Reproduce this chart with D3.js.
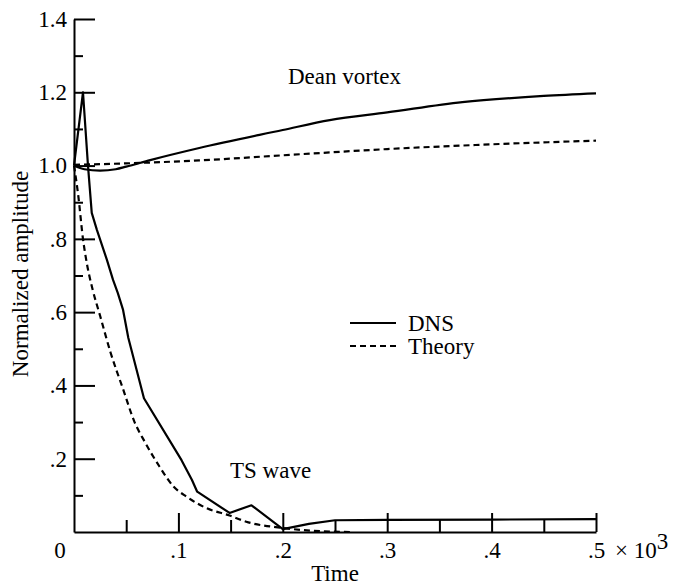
<!DOCTYPE html>
<html>
<head>
<meta charset="utf-8">
<script src="https://cdn.jsdelivr.net/npm/d3@7"></script>
<style>
  body { margin: 0; background: #fff; }
  svg text { font-family: "Liberation Serif", Tinos, "Times New Roman", Times, "DejaVu Serif", serif !important; fill: #000; }
</style>
</head>
<body>
<div id="c"></div>
<script>
"use strict";

// values (time in units of 10^3)
const tsDnsT   = [0, 0.0086, 0.0134, 0.017, 0.022, 0.0316, 0.0374, 0.042, 0.047, 0.052, 0.067, 0.103, 0.113, 0.118, 0.149, 0.17, 0.2, 0.225, 0.25, 0.3, 0.4, 0.5]
const tsDnsV   = [1.0, 1.2, 1.0, 0.871, 0.824, 0.742, 0.688, 0.652, 0.606, 0.53, 0.365, 0.196, 0.142, 0.11, 0.052, 0.073, 0.008, 0.022, 0.032, 0.033, 0.034, 0.035]

const tsThT    = [0, 0.004, 0.0086, 0.0125, 0.018, 0.025, 0.035, 0.047, 0.058, 0.068, 0.082, 0.095, 0.108, 0.127, 0.149, 0.165, 0.2, 0.23, 0.265]
const tsThV    = [1.0, 0.92, 0.80, 0.73, 0.66, 0.59, 0.49, 0.39, 0.30, 0.245, 0.178, 0.125, 0.096, 0.065, 0.045, 0.028, 0.011, 0.003, 0.0]

const deanDnsT = [0, 0.01, 0.025, 0.04, 0.05, 0.073, 0.12, 0.2, 0.245, 0.3, 0.372, 0.45, 0.5]
const deanDnsV = [1.0, 0.99, 0.986, 0.99, 0.997, 1.015, 1.048, 1.097, 1.124, 1.145, 1.173, 1.19, 1.197]

const deanThT  = [0, 0.05, 0.12, 0.2, 0.3, 0.4, 0.5]
const deanThV  = [1.002, 1.006, 1.014, 1.028, 1.045, 1.058, 1.068]

const xMajor = [0.1, 0.2, 0.3, 0.4, 0.5]
const xMinor = [0.05, 0.15, 0.25, 0.35, 0.45]
const yMajor = [0.2, 0.4, 0.6, 0.8, 1.0, 1.2, 1.4]
const yMinor = [0.1, 0.3, 0.5, 0.7, 0.9, 1.1, 1.3]

const legendLabels = ["DNS", "Theory"]
const legendDash = [null, "6,4"]

const W = 674, H = 588
const fontSize = 23
const serif = '"Liberation Serif", Tinos, "Times New Roman", Times, "DejaVu Serif", serif'

let svg = d3.select('#c').append('svg')
    .attr('width', W).attr('height', H)
    .attr('font-family', serif)

let xScale = d3.scaleLinear().domain([0, 0.5]).range([74, 596])
let yScale = d3.scaleLinear().domain([0, 1.4]).range([532, 19])

function pts(ts, vs) {
    return ts.map((t, i) => ({ t: t, v: vs[i] }))
}

function fmt(d) {
    let s = d3.format(".1f")(d)
    return d < 1 ? s.replace(/^0/, "") : s
}

function addText(x, y, str) {
    return svg.append('text')
        .attr('x', x).attr('y', y)
        .attr('font-family', serif)
        .style('font-size', fontSize + 'px')
        .text(str)
}

// x axis, ticks point inwards
svg.append('g')
    .attr('transform', 'translate(0,' + yScale(0) + ')')
    .call(d3.axisBottom(xScale).tickValues(xMajor).tickSizeInner(-19).tickSizeOuter(0)
        .tickPadding(10).tickFormat(fmt))
svg.append('g')
    .attr('transform', 'translate(0,' + yScale(0) + ')')
    .call(d3.axisBottom(xScale).tickValues(xMinor).tickSizeInner(-12).tickSizeOuter(0)
        .tickFormat(''))
    .select('.domain').remove()

svg.append('g')
    .attr('transform', 'translate(' + xScale(0) + ',0)')
    .call(d3.axisLeft(yScale).tickValues(yMajor).tickSizeInner(-21).tickSizeOuter(0)
        .tickPadding(7).tickFormat(fmt))
svg.append('g')
    .attr('transform', 'translate(' + xScale(0) + ',0)')
    .call(d3.axisLeft(yScale).tickValues(yMinor).tickSizeInner(-9).tickSizeOuter(0)
        .tickFormat(''))
    .select('.domain').remove()

svg.selectAll('g').attr('font-family', serif).attr('font-size', fontSize)
svg.selectAll('.domain, .tick line')
    .attr('stroke', '#000').attr('stroke-width', 2)
svg.selectAll('.tick text')
    .style('font-size', fontSize + 'px')
    .attr('fill', '#000')

// origin label and exponent
addText(xScale(0) - 14, yScale(0) + 26, '0').attr('text-anchor', 'middle')

let expo = addText(xScale(0.5) + 19, yScale(0) + 26, null)
expo.append('tspan').text('\u00d7 10')
expo.append('tspan').attr('dy', -9).text('3')

// axis titles
addText(335, 581, 'Time').attr('text-anchor', 'middle')

svg.append('text')
    .attr('transform', 'translate(28,274) rotate(-90)')
    .attr('text-anchor', 'middle')
    .attr('font-family', serif)
    .style('font-size', fontSize + 'px')
    .text('Normalized amplitude')

// curves
const lineLin = d3.line().x(d => xScale(d.t)).y(d => yScale(d.v))
const lineSmooth = d3.line().x(d => xScale(d.t)).y(d => yScale(d.v)).curve(d3.curveMonotoneX)

let series = [
    { data: pts(tsDnsT, tsDnsV), gen: lineLin, dash: null },
    { data: pts(tsThT, tsThV), gen: lineSmooth, dash: "6,4" },
    { data: pts(deanDnsT, deanDnsV), gen: lineSmooth, dash: null },
    { data: pts(deanThT, deanThV), gen: lineSmooth, dash: "6,4" },
]

series.forEach(s => {
    svg.append('path')
        .datum(s.data)
        .attr('fill', 'none')
        .attr('stroke', '#000')
        .attr('stroke-width', 2.2)
        .attr('stroke-linejoin', 'round')
        .attr('stroke-dasharray', s.dash)
        .attr('d', s.gen)
})

// annotations
addText(288, 84, 'Dean vortex')
addText(230, 478, 'TS wave')

// legend
let legend = svg.append('g').attr('transform', 'translate(350,323)')
legendLabels.forEach((label, i) => {
    let g = legend.append('g').attr('transform', 'translate(0,' + i * 23 + ')')
    g.append('line')
        .attr('x1', 0).attr('x2', 46)
        .attr('y1', 0).attr('y2', 0)
        .attr('stroke', '#000')
        .attr('stroke-width', 2.2)
        .attr('stroke-dasharray', legendDash[i])
    g.append('text')
        .attr('x', 58).attr('y', 8)
        .attr('font-family', serif)
        .style('font-size', fontSize + 'px')
        .text(label)
})
</script>
</body>
</html>
